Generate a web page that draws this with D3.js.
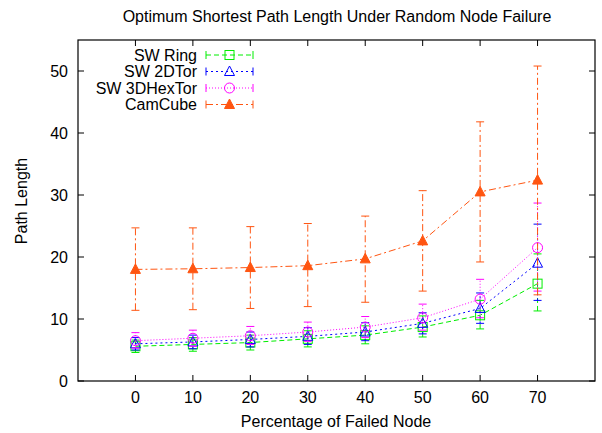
<!DOCTYPE html>
<html>
<head>
<meta charset="utf-8">
<script src="https://cdn.jsdelivr.net/npm/d3@7"></script>
<style>
  body { margin: 0; background: #fff; }
  svg text { font-family: "Liberation Sans", Arial, sans-serif; fill: #000; }
</style>
</head>
<body>
<div id="chart"></div>
<script>
// data
const failed = [0, 10, 20, 30, 40, 50, 60, 70];
const xTicks = [0, 10, 20, 30, 40, 50, 60, 70];
const yTicks = [0, 10, 20, 30, 40, 50];

const ringMean = [5.6, 5.9, 6.2, 6.8, 7.4, 8.7, 10.6, 15.7];
const ringLow = [4.6, 4.8, 5.0, 5.5, 6.0, 7.1, 8.4, 11.3];
const ringHigh = [6.6, 7.0, 7.4, 8.1, 8.9, 10.5, 13.0, 20.5];

const torMean = [6.0, 6.3, 6.7, 7.2, 7.9, 9.3, 11.7, 19.0];
const torLow = [5.0, 5.2, 5.5, 5.9, 6.5, 7.6, 9.3, 13.0];
const torHigh = [7.0, 7.4, 7.9, 8.6, 9.4, 11.0, 14.2, 25.3];

const hexMean = [6.5, 6.9, 7.3, 7.9, 8.7, 10.2, 13.2, 21.5];
const hexLow = [5.3, 5.6, 5.9, 6.4, 7.0, 8.2, 10.2, 14.5];
const hexHigh = [7.8, 8.2, 8.8, 9.5, 10.4, 12.4, 16.4, 28.7];

const camMean = [18.0, 18.1, 18.3, 18.6, 19.7, 22.6, 30.5, 32.4];
const camLow = [11.4, 11.5, 11.7, 12.0, 12.7, 14.5, 19.2, 13.9];
const camHigh = [24.7, 24.7, 24.9, 25.4, 26.6, 30.7, 41.8, 50.8];

const series = [
  { name: "SW Ring", mean: ringMean, low: ringLow, high: ringHigh, color: "#00ee00", dash: "5,3", marker: "square" },
  { name: "SW 2DTor", mean: torMean, low: torLow, high: torHigh, color: "#0000ff", dash: "2,3", marker: "triangle" },
  { name: "SW 3DHexTor", mean: hexMean, low: hexLow, high: hexHigh, color: "#ff00ff", dash: "1,2", marker: "circle" },
  { name: "CamCube", mean: camMean, low: camLow, high: camHigh, color: "#ff5511", dash: "7,3,2,3", marker: "triangleFilled" },
];

const width = 602, height = 433;
const margin = { top: 40, right: 7, bottom: 52, left: 78 };
const innerW = width - margin.left - margin.right;
const innerH = height - margin.top - margin.bottom;
const fontSize = "16px";

const svg = d3.select("#chart").append("svg")
  .attr("width", width)
  .attr("height", height);

const g = svg.append("g")
  .attr("transform", `translate(${margin.left},${margin.top})`);

const x = d3.scaleLinear().domain([-10, 80]).range([0, innerW]);
const y = d3.scaleLinear().domain([0, 55]).range([innerH, 0]);

// ticks on all four sides, pointing inward
const tickLen = 6;
xTicks.forEach(t => {
  g.append("line").attr("x1", x(t)).attr("x2", x(t)).attr("y1", innerH).attr("y2", innerH - tickLen).attr("stroke", "#000");
  g.append("line").attr("x1", x(t)).attr("x2", x(t)).attr("y1", 0).attr("y2", tickLen).attr("stroke", "#000");
  g.append("text").attr("x", x(t)).attr("y", innerH + 22).attr("text-anchor", "middle")
    .style("font-size", fontSize).text(t);
});
yTicks.forEach(t => {
  g.append("line").attr("x1", 0).attr("x2", tickLen).attr("y1", y(t)).attr("y2", y(t)).attr("stroke", "#000");
  g.append("line").attr("x1", innerW).attr("x2", innerW - tickLen).attr("y1", y(t)).attr("y2", y(t)).attr("stroke", "#000");
  g.append("text").attr("x", -10).attr("y", y(t)).attr("dy", "0.35em").attr("text-anchor", "end")
    .style("font-size", fontSize).text(t);
});

g.append("rect")
  .attr("width", innerW).attr("height", innerH)
  .attr("fill", "none").attr("stroke", "#000").attr("stroke-width", 1.2);

// titles
svg.append("text").attr("x", 337).attr("y", 22).attr("text-anchor", "middle")
  .style("font-size", fontSize).text("Optimum Shortest Path Length Under Random Node Failure");
svg.append("text").attr("x", 336).attr("y", 427).attr("text-anchor", "middle")
  .style("font-size", fontSize).text("Percentage of Failed Node");
svg.append("text").attr("transform", "translate(27,201) rotate(-90)").attr("text-anchor", "middle")
  .style("font-size", fontSize).text("Path Length");

function drawMarker(sel, type, color) {
  if (type === "square") {
    sel.append("rect").attr("x", -4.5).attr("y", -4.5).attr("width", 9).attr("height", 9)
      .attr("fill", "none").attr("stroke", color);
  } else if (type === "circle") {
    sel.append("circle").attr("r", 5).attr("fill", "none").attr("stroke", color);
  } else {
    sel.append("path").attr("d", "M0,-5.5L5,4L-5,4Z")
      .attr("fill", type === "triangleFilled" ? color : "none").attr("stroke", color);
  }
}

const line = d3.line().x(d => x(d[0])).y(d => y(d[1]));

series.forEach(s => {
  const sg = g.append("g");
  const pts = failed.map((f, i) => [f, s.mean[i]]);

  // error bars
  failed.forEach((f, i) => {
    sg.append("line").attr("x1", x(f)).attr("x2", x(f))
      .attr("y1", y(s.low[i])).attr("y2", y(s.high[i]))
      .attr("stroke", s.color).attr("stroke-dasharray", s.dash);
    [s.low[i], s.high[i]].forEach(v => {
      sg.append("line").attr("x1", x(f) - 4).attr("x2", x(f) + 4)
        .attr("y1", y(v)).attr("y2", y(v))
        .attr("stroke", s.color);
    });
  });

  sg.append("path").datum(pts).attr("d", line)
    .attr("fill", "none").attr("stroke", s.color).attr("stroke-dasharray", s.dash);

  pts.forEach(p => {
    drawMarker(sg.append("g").attr("transform", `translate(${x(p[0])},${y(p[1])})`), s.marker, s.color);
  });
});

// legend
const legend = svg.append("g");
series.forEach((s, i) => {
  const ly = 55 + i * 16.5;
  legend.append("text").attr("x", 197).attr("y", ly).attr("dy", "0.35em").attr("text-anchor", "end")
    .style("font-size", fontSize).text(s.name);
  legend.append("line").attr("x1", 206).attr("x2", 253).attr("y1", ly).attr("y2", ly)
    .attr("stroke", s.color).attr("stroke-dasharray", s.dash);
  [206, 253].forEach(xx => {
    legend.append("line").attr("x1", xx).attr("x2", xx).attr("y1", ly - 4).attr("y2", ly + 4)
      .attr("stroke", s.color);
  });
  drawMarker(legend.append("g").attr("transform", `translate(229.5,${ly})`), s.marker, s.color);
});
</script>
</body>
</html>
